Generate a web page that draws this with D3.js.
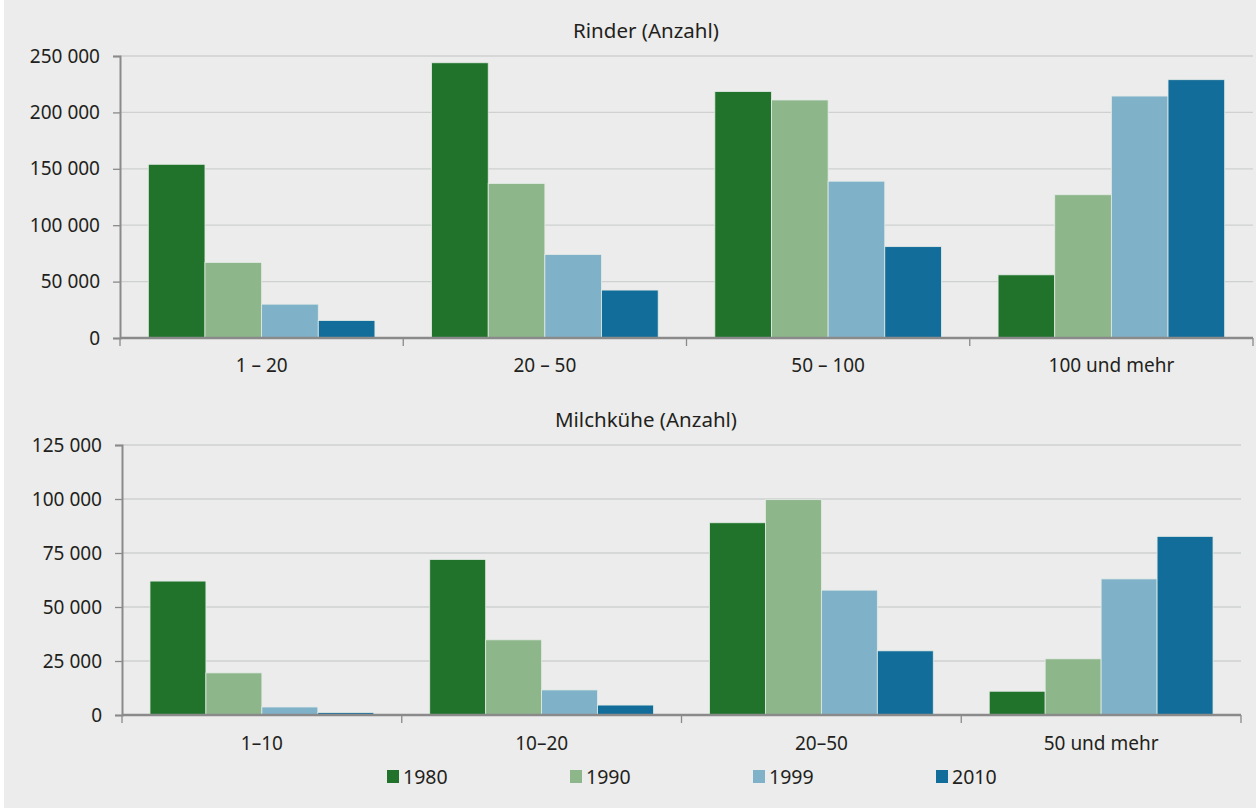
<!DOCTYPE html>
<html lang="de">
<head>
<meta charset="UTF-8">
<title>Rinder und Milchkühe</title>
<script src="https://cdn.jsdelivr.net/npm/d3@7"></script>
<style>
body{margin:0;background:#fff;}
svg text{font-family:"Noto Sans","Open Sans",sans-serif;fill:#231f20;}
</style>
</head>
<body>
<script>
var series = ["1980","1990","1999","2010"];
var colors = ["#21732c","#8db68a","#7fb1c9","#136d9a"];

// Rinder
var rinderCats = ["1 \u2013 20","20 \u2013 50","50 \u2013 100","100 und mehr"];
var rinder1980 = [154000,244000,218500,56000];
var rinder1990 = [67000,137000,211000,127000];
var rinder1999 = [30000,74000,139000,214500];
var rinder2010 = [15500,42500,81000,229000];
var rinderTicks = [0,50000,100000,150000,200000,250000];

// Milchkühe
var kueheCats = ["1\u201310","10\u201320","20\u201350","50 und mehr"];
var kuehe1980 = [62000,72000,89000,11000];
var kuehe1990 = [19500,34800,99700,26000];
var kuehe1999 = [3700,11600,57800,63000];
var kuehe2010 = [1100,4600,29700,82700];
var kueheTicks = [0,25000,50000,75000,100000,125000];

var width = 1256, height = 808;
var svg = d3.select("body").append("svg").attr("width",width).attr("height",height);
svg.append("rect").attr("x",4).attr("y",0).attr("width",width-4).attr("height",height).attr("fill","#ebeceb");

// Tausendertrennzeichen als Leerzeichen
var fmt = function(v){ return d3.format(",")(v).replace(/,/g," "); };

function drawPanel(opt){
	var cats = opt.cats;
	var rows = opt.values; // ein Array pro Jahr
	var x0 = d3.scaleBand().domain(cats).range([opt.left,opt.right]).padding(0);
	var x1 = d3.scaleBand().domain(series).range([x0.bandwidth()*0.1,x0.bandwidth()*0.9]).padding(0);
	var y = d3.scaleLinear().domain([0,opt.max]).range([opt.bottom,opt.top]);

	var g = svg.append("g");
	// Gitterlinien
	g.selectAll(".grid").data(opt.ticks.slice(1)).enter().append("line")
		.attr("x1",opt.left).attr("x2",opt.right)
		.attr("y1",function(d){return y(d);}).attr("y2",function(d){return y(d);})
		.attr("stroke","#cfd1d0").attr("stroke-width",1.3);

	// Balken
	var groups = g.selectAll(".grp").data(cats).enter().append("g")
		.attr("transform",function(d){return "translate("+x0(d)+",0)";});
	groups.selectAll("rect").data(function(c,ci){
			return series.map(function(s,si){return {s:s,si:si,v:rows[si][ci]};});
		}).enter().append("rect")
		.attr("x",function(d){return x1(d.s);})
		.attr("width",x1.bandwidth())
		.attr("y",function(d){return y(d.v);})
		.attr("height",function(d){return opt.bottom-y(d.v);})
		.attr("fill",function(d){return colors[d.si];})
		.attr("stroke","#e4ebe6").attr("stroke-width",0.8);

	// y-Achse
	var ya = g.append("g").attr("transform","translate("+opt.left+",0)")
		.call(d3.axisLeft(y).tickValues(opt.ticks).tickFormat(fmt).tickSize(7).tickPadding(13));
	ya.select(".domain").attr("stroke","#8a8a8a").attr("stroke-width",2);
	ya.selectAll(".tick line").attr("stroke","#8a8a8a").attr("stroke-width",1.3);
	ya.selectAll("text").style("font-size","19px").attr("fill","#231f20");

	// x-Achse
	var xa = g.append("g").attr("transform","translate(0,"+opt.bottom+")")
		.call(d3.axisBottom(x0).tickSize(0).tickPadding(opt.labelPad));
	xa.select(".domain").remove();
	xa.selectAll("text").style("font-size","19px").attr("fill","#231f20");
	g.append("line").attr("x1",opt.left).attr("x2",opt.right)
		.attr("y1",opt.bottom).attr("y2",opt.bottom)
		.attr("stroke","#8a8a8a").attr("stroke-width",2.5);
	var bounds = cats.map(function(c){return x0(c);}).concat([opt.right]);
	g.selectAll(".xt").data(bounds).enter().append("line")
		.attr("x1",function(d){return d;}).attr("x2",function(d){return d;})
		.attr("y1",opt.bottom).attr("y2",opt.bottom+8)
		.attr("stroke","#8a8a8a").attr("stroke-width",1.3);

	g.append("text").attr("x",646).attr("y",opt.titleY).attr("text-anchor","middle")
		.style("font-size","20.5px").text(opt.title);
}

drawPanel({cats:rinderCats,values:[rinder1980,rinder1990,rinder1999,rinder2010],
	ticks:rinderTicks,max:250000,left:120,right:1253,top:56,bottom:338,labelPad:21,
	title:"Rinder (Anzahl)",titleY:38});
drawPanel({cats:kueheCats,values:[kuehe1980,kuehe1990,kuehe1999,kuehe2010],
	ticks:kueheTicks,max:125000,left:122,right:1241,top:445,bottom:715,labelPad:22,
	title:"Milchk\u00fche (Anzahl)",titleY:427});

// Legende
var legendX = d3.scalePoint().domain(series).range([387,936]);
var lg = svg.selectAll(".leg").data(series).enter().append("g")
	.attr("transform",function(d){return "translate("+legendX(d)+",770)";});
lg.append("rect").attr("width",12).attr("height",13).attr("fill",function(d,i){return colors[i];});
lg.append("text").attr("x",16).attr("y",13.5).style("font-size","19.5px").text(function(d){return d;});
</script>
</body>
</html>
